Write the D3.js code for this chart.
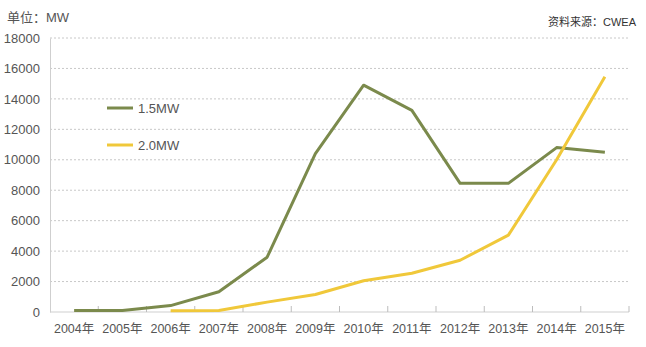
<!DOCTYPE html>
<html>
<head>
<meta charset="utf-8">
<script src="https://cdn.jsdelivr.net/npm/d3@7/dist/d3.min.js"></script>
<style>
  html, body { margin: 0; padding: 0; background: #fff; }
  svg { display: block; font-family: "Liberation Sans", "Noto Sans CJK SC", sans-serif; }
</style>
</head>
<body>
<svg id="chart" width="646" height="347"></svg>
<script>
// Annual installed capacity by turbine class (MW)
const years = ["2004年","2005年","2006年","2007年","2008年","2009年","2010年","2011年","2012年","2013年","2014年","2015年"];
const mw15 = [100, 100, 420, 1330, 3600, 10400, 14900, 13250, 8450, 8450, 10800, 10500];
const mw20 = [null, null, 80, 100, 650, 1150, 2050, 2550, 3400, 5050, 10000, 15450];
const yTicks = [0, 2000, 4000, 6000, 8000, 10000, 12000, 14000, 16000, 18000];
const seriesNames = ["1.5MW", "2.0MW"];
const seriesColors = ["#7b8a4c", "#f0c83a"];

const svg = d3.select("#chart");
const m = { left: 50, right: 17, top: 38, bottom: 35 };
const W = 646, H = 347;

const x = d3.scaleBand().domain(years).range([m.left, W - m.right]);
const y = d3.scaleLinear().domain([0, 18000]).range([H - m.bottom, m.top]);

// horizontal dotted gridlines
svg.append("g")
  .selectAll("line")
  .data(yTicks.filter(d => d > 0))
  .join("line")
  .attr("x1", m.left).attr("x2", W - m.right)
  .attr("y1", d => y(d)).attr("y2", d => y(d))
  .attr("stroke", "#c8c8c8")
  .attr("stroke-width", 1)
  .attr("stroke-dasharray", "2,2");

// y axis
const yAxis = svg.append("g")
  .attr("transform", `translate(${m.left},0)`)
  .call(d3.axisLeft(y).tickValues(yTicks).tickSize(0).tickPadding(10).tickFormat(d3.format("d")));
yAxis.select(".domain").attr("stroke", "#cfcfcf");
yAxis.selectAll("text").attr("font-size", 13).attr("fill", "#555");

// x axis with ticks on band boundaries pointing up
const xAxisG = svg.append("g").attr("transform", `translate(0,${y(0)})`);
xAxisG.append("line")
  .attr("x1", m.left).attr("x2", W - m.right)
  .attr("stroke", "#cfcfcf");
xAxisG.selectAll("line.tk")
  .data(years.slice(1).concat(["end"]))
  .join("line")
  .attr("class", "tk")
  .attr("x1", (d, i) => m.left + x.step() * (i + 1))
  .attr("x2", (d, i) => m.left + x.step() * (i + 1))
  .attr("y1", -6).attr("y2", 0)
  .attr("stroke", "#bdbdbd");
xAxisG.selectAll("text")
  .data(years)
  .join("text")
  .attr("x", d => x(d) + x.bandwidth() / 2)
  .attr("y", 21)
  .attr("text-anchor", "middle")
  .attr("font-size", 12.5)
  .attr("fill", "#555")
  .text(d => d);

// lines
const line = d3.line()
  .defined(d => d.v != null)
  .x(d => x(d.year) + x.bandwidth() / 2)
  .y(d => y(d.v));

[mw15, mw20].forEach((vals, i) => {
  svg.append("path")
    .datum(vals.map((v, j) => ({ year: years[j], v })))
    .attr("fill", "none")
    .attr("stroke", seriesColors[i])
    .attr("stroke-width", 3)
    .attr("stroke-linejoin", "round")
    .attr("d", line);
});

// legend
const legendY = [108, 145];
seriesNames.forEach((name, i) => {
  svg.append("line")
    .attr("x1", 107).attr("x2", 133)
    .attr("y1", legendY[i]).attr("y2", legendY[i])
    .attr("stroke", seriesColors[i]).attr("stroke-width", 3);
  svg.append("text")
    .attr("x", 138).attr("y", legendY[i] + 4.5)
    .attr("font-size", 13).attr("fill", "#555")
    .text(name);
});

// unit and source notes
svg.append("text")
  .attr("x", 7).attr("y", 22)
  .attr("font-size", 13).attr("fill", "#555")
  .text("单位：MW");
svg.append("text")
  .attr("x", 636).attr("y", 26)
  .attr("text-anchor", "end")
  .attr("font-size", 11).attr("fill", "#333")
  .text("资料来源：CWEA");
</script>
</body>
</html>
